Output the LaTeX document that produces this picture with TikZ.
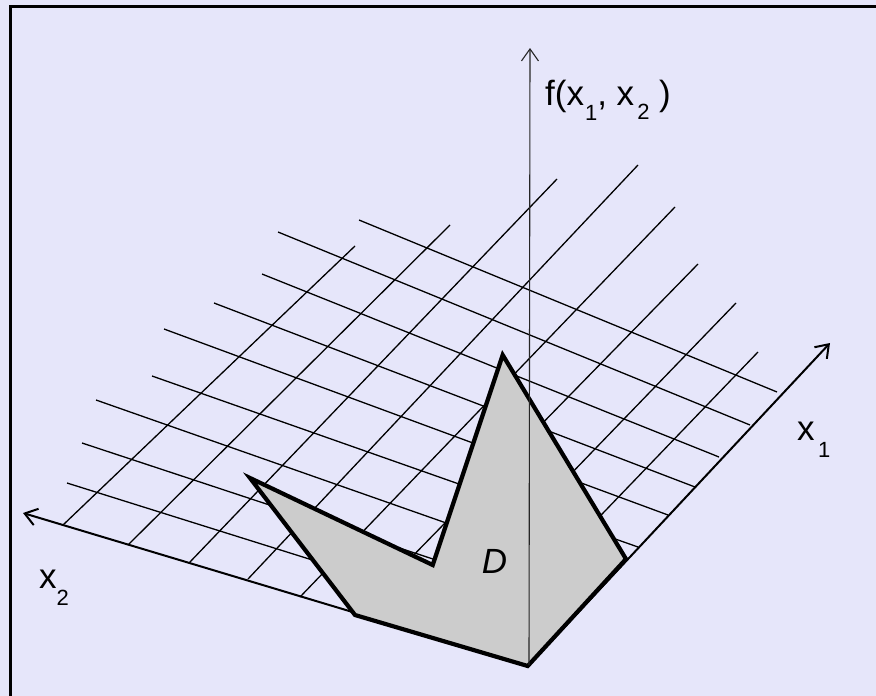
\documentclass[tikz,border=0pt]{standalone}
\usepackage{fontspec}
\setmainfont{Liberation Sans}
\usetikzlibrary{arrows.meta}
\definecolor{lavbg}{RGB}{230,230,250}
\definecolor{domgray}{RGB}{204,204,204}
\newcommand{\lowsub}[2][16pt]{\raisebox{-#1}{\fontsize{22}{22}\selectfont #2}}

\begin{document}
\begin{tikzpicture}[
  x=1pt,y=-1pt,
  >={Straight Barb[length=12pt,width=17pt]},
  gridline/.style={line width=1.3pt,black},
  axisline/.style={->,line width=2pt,black},
  region/.style={draw=black,line width=4.2pt,fill=domgray},
  axlabel/.style={font=\fontsize{35}{40}\selectfont,inner sep=0pt,anchor=base west}
]
\fill[lavbg] (0,0) rectangle (876,696);
\useasboundingbox (0,0) rectangle (876,696);
\draw[line width=3pt] (10.5,700) -- (10.5,6.2) -- (880,6.2);

\coordinate (O) at (529,665);
\coordinate (x1tip) at (830,343);
\coordinate (x2tip) at (23,513);
\coordinate (ftip) at (530,48);

\foreach \ax/\ay/\bx/\by in {359/220/777/392, 278/232/750/425, 262/274/719/457,
    214/303/695/487, 164/329/668/515, 152/376/638/547, 96/400/600/577,
    82/443/575/606, 67/483/545/633}
  \draw[gridline] (\ax,\ay) -- (\bx,\by);
\foreach \ax/\ay/\bx/\by in {63/525/355/246, 128/545/450/225, 189/563/557/179,
    248/579/638/165, 300/597/675/207, 360/610/698/264, 423/627/736/303,
    478/643/758/352}
  \draw[gridline] (\ax,\ay) -- (\bx,\by);

\draw[axisline] (O) -- (x2tip);
\draw[axisline] (O) -- (x1tip);

\draw[region] (250,478) -- (432.7,565) -- (502.7,355) -- (626,559)
  -- (527.7,666) -- (355,615) -- cycle;

\draw[->,line width=1.1pt,black!85] (O) -- (ftip);

\node[font=\fontsize{35}{40}\selectfont\itshape,inner sep=0pt] (dname)
  at (494.5,561) {D};
\node[axlabel] (flabel) at (545,105)
  {f(x\hspace{1pt}\lowsub[15pt]{1}, x\hspace{3pt}\lowsub[14pt]{2} )};
\node[axlabel] (x1label) at (797,440) {x\hspace{3.5pt}\lowsub[17pt]{1}};
\node[axlabel] (x2label) at (39,588) {x\lowsub[17pt]{2}};
\end{tikzpicture}
\end{document}
